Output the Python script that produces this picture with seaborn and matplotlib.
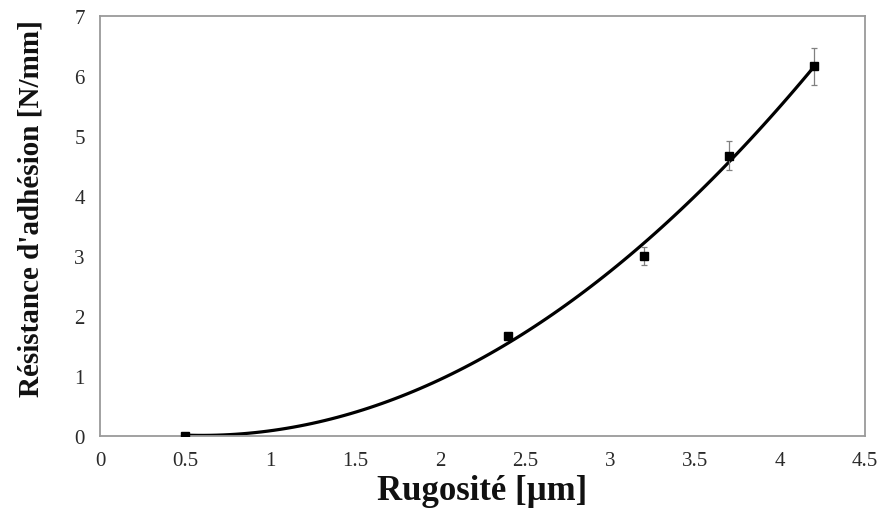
import numpy as np
import pandas as pd
import matplotlib
matplotlib.use("Agg")
import matplotlib.pyplot as plt
import seaborn as sns

# Measured adhesion strength versus surface roughness
rugosite = [0.5, 2.4, 3.2, 3.7, 4.2]
resistance = [0.0, 1.67, 3.0, 4.67, 6.16]
erreur = [0.0, 0.05, 0.15, 0.24, 0.31]

x_ticks = [0, 0.5, 1, 1.5, 2, 2.5, 3, 3.5, 4, 4.5]
x_tick_labels = ["0", "0.5", "1", "1.5", "2", "2.5", "3", "3.5", "4", "4.5"]
y_ticks = [0, 1, 2, 3, 4, 5, 6, 7]

df = pd.DataFrame({"rugosite": rugosite, "resistance": resistance})

sns.set_theme(style="white")
plt.rcParams["font.family"] = ["Liberation Serif", "DejaVu Serif"]

fig = plt.figure(figsize=(8.82, 5.10), dpi=100)
ax = fig.add_axes([0.1134, 0.1431, 0.8673, 0.8236])

# Second-order trend line through the measurements
sns.regplot(data=df, x="rugosite", y="resistance", order=2, ci=None,
            scatter=False, truncate=True, ax=ax,
            line_kws={"color": "black", "linewidth": 2.3})

ax.errorbar(rugosite, resistance, yerr=erreur, fmt="s", color="black",
            markersize=6, ecolor="#808080", elinewidth=0.9, capsize=2.5,
            capthick=0.9, zorder=3)

ax.set_xlim(0, 4.5)
ax.set_ylim(0, 7)
ax.set_xticks(x_ticks)
ax.set_xticklabels(x_tick_labels)
ax.set_yticks(y_ticks)

for side in ["left", "right", "top", "bottom"]:
    ax.spines[side].set_visible(True)
    ax.spines[side].set_color("#9a9a9a")
    ax.spines[side].set_linewidth(1.3)

ax.tick_params(axis="both", which="major", direction="out", length=4,
               width=1, color="#9a9a9a", labelsize=15,
               labelcolor="#2a2a2a", pad=7)

ax.set_xlabel("Rugosité [µm]", fontsize=25, fontweight="bold",
              color="#111111", labelpad=3)
ax.set_ylabel("Résistance d'adhésion [N/mm]", fontsize=21,
              fontweight="bold", color="#111111")
ax.yaxis.set_label_coords(-0.072, 0.545)

fig.savefig("out.png", dpi=100)
